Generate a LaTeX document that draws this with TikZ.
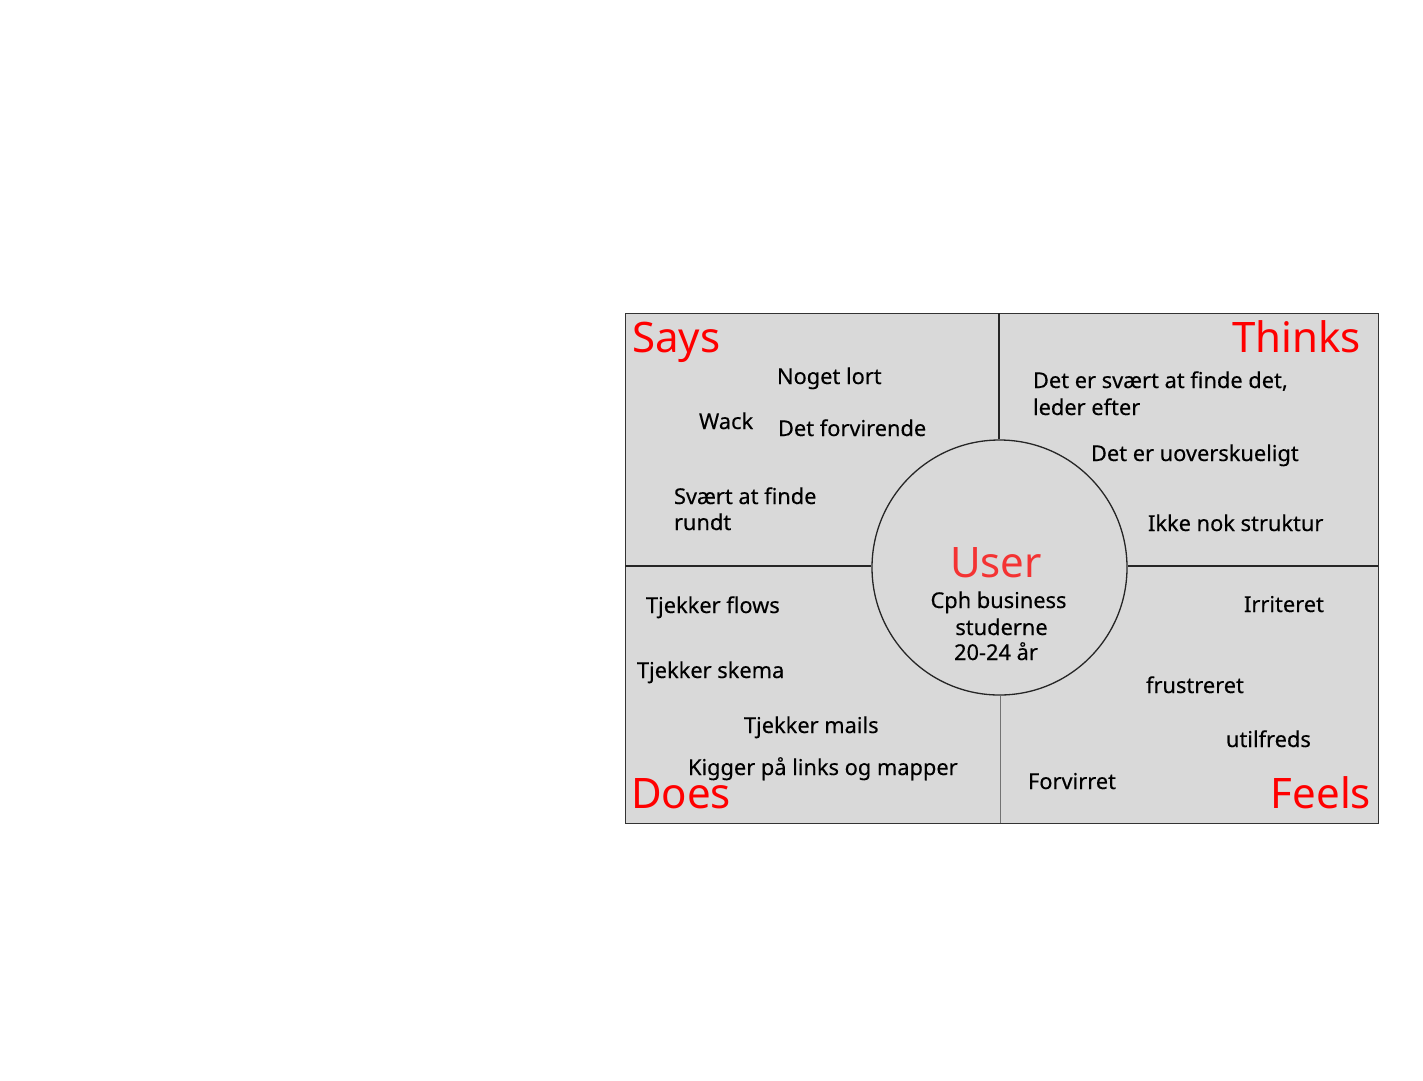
\documentclass[tikz,border=0pt]{standalone}
\usepackage{fontspec}
\setmainfont{Noto Sans}
\newfontfamily\itemfont{Noto Sans}[FakeBold=0.3]
\definecolor{panel}{HTML}{D9D9D9}
\definecolor{hdr}{HTML}{FF0000}
\definecolor{usr}{HTML}{F43333}
\definecolor{edge}{HTML}{333333}
\begin{document}
\begin{tikzpicture}[x=1pt,y=-1pt,
  item/.style={inner sep=0pt,outer sep=0pt,anchor=base west,font=\itemfont\fontsize{21.8}{26}\selectfont,text=black},
  head/.style={inner sep=0pt,outer sep=0pt,font=\fontsize{42}{48}\selectfont,text=hdr},
  frame/.style={draw=edge,line width=1.3pt}]
\useasboundingbox (0,0) rectangle (1423,1080);
\fill[white] (0,0) rectangle (1423,1080);
% box
\node[frame,fill=panel,minimum width=753pt,minimum height=510pt,inner sep=0pt,anchor=north west] (box) at (625,313) {};
% circle
\node[circle,draw=black!85,line width=1.3pt,fill=panel,minimum size=255pt,inner sep=0pt] (user) at (999.5,567.5) {};
% dividing lines
\coordinate (tv) at (999,313);
\coordinate (bv) at (1000,823);
\coordinate (lh) at (625,566);
\coordinate (rh) at (1378,566);
\draw[black!85,line width=1.2pt] (tv) -- (user.north -| tv);
\draw[black!55,line width=1pt] (bv) -- (user.south -| bv);
\draw[black!85,line width=1.3pt] (lh) -- (user.west |- lh);
\draw[black!85,line width=1.3pt] (rh) -- (user.east |- rh);
% headings
\node[head,anchor=base west] (says) at (632,352) {Says};
\node[head,anchor=base east] (thinks) at (1361,352) {Thinks};
\node[head,anchor=base west] (does) at (631,808) {Does};
\node[head,anchor=base east] (feels) at (1371,808) {Feels};
% user
\node[inner sep=0pt,anchor=base,font=\fontsize{42}{48}\selectfont,text=usr] (utitle) at (996,577) {User};
\node[item,anchor=base] (u1) at (998.5,608) {Cph business};
\node[item,anchor=base] (u2) at (1001.5,635) {studerne};
\node[item,anchor=base] (u3) at (996,660) {20-24 år};
% says
\node[item] (s1) at (777,384) {Noget lort};
\node[item] (s2) at (699,429) {Wack};
\node[item] (s3) at (778,436) {Det forvirende};
\node[item] (s4) at (674,504) {Svært at finde};
\node[item] (s5) at (674,530) {rundt};
% thinks
\node[item] (t1) at (1033,388) {Det er svært at finde det,};
\node[item] (t2) at (1033,415) {leder efter};
\node[item] (t3) at (1091,461) {Det er uoverskueligt};
\node[item] (t4) at (1148,531) {Ikke nok struktur};
% does
\node[item] (d1) at (646,613) {Tjekker flows};
\node[item] (d2) at (637,678) {Tjekker skema};
\node[item] (d3) at (744,733) {Tjekker mails};
\node[item] (d4) at (688,775) {Kigger på links og mapper};
% feels
\node[item] (f1) at (1244,612) {Irriteret};
\node[item] (f2) at (1146,693) {frustreret};
\node[item] (f3) at (1226,747) {utilfreds};
\node[item] (f4) at (1028,789) {Forvirret};
\end{tikzpicture}
\end{document}
